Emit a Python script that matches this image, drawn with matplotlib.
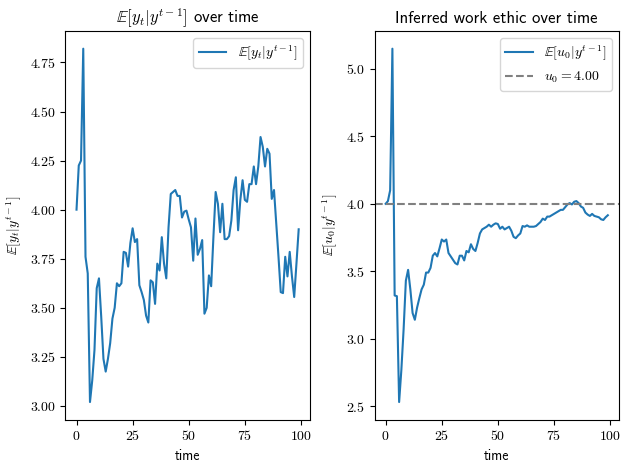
import numpy as np
import matplotlib
matplotlib.use("Agg")
import matplotlib.pyplot as plt
from matplotlib.ticker import FormatStrFormatter

# LaTeX-like look without a TeX install
plt.rcParams["font.family"] = "cmss10"
plt.rcParams["mathtext.fontset"] = "cm"
plt.rcParams["axes.formatter.use_mathtext"] = True

# Expected output E[y_t | y^{t-1}]
y_expected = [
    4.00, 4.225, 4.25, 4.82, 3.76, 3.675, 3.02, 3.13, 3.285, 3.60,
    3.65, 3.455, 3.24, 3.175, 3.24, 3.32, 3.445, 3.50, 3.625, 3.61,
    3.625, 3.785, 3.78, 3.71, 3.83, 3.905, 3.835, 3.85, 3.615, 3.58,
    3.54, 3.46, 3.425, 3.64, 3.63, 3.52, 3.725, 3.69, 3.86, 3.725,
    3.65, 3.91, 4.08, 4.09, 4.10, 4.07, 4.07, 3.96, 3.99, 3.995,
    3.95, 3.91, 3.74, 3.955, 3.77, 3.80, 3.845, 3.47, 3.50, 3.665,
    3.61, 3.86, 4.09, 4.03, 3.885, 4.03, 3.85, 3.85, 3.865, 3.945,
    4.10, 4.165, 3.895, 4.05, 4.15, 4.05, 4.04, 4.13, 4.13, 4.22,
    4.13, 4.22, 4.37, 4.32, 4.22, 4.31, 4.285, 4.055, 4.10, 3.93,
    3.76, 3.58, 3.575, 3.76, 3.66, 3.785, 3.66, 3.555, 3.725, 3.90,
]

# Inferred work ethic E[u_0 | y^{t-1}]
u_expected = [
    4.00, 4.02, 4.10, 5.15, 3.32, 3.315, 2.53, 2.77, 3.07, 3.43,
    3.51, 3.365, 3.19, 3.14, 3.23, 3.30, 3.365, 3.40, 3.49, 3.49,
    3.525, 3.615, 3.635, 3.61, 3.67, 3.735, 3.72, 3.735, 3.635, 3.61,
    3.585, 3.56, 3.55, 3.615, 3.615, 3.58, 3.65, 3.64, 3.70, 3.665,
    3.65, 3.71, 3.78, 3.81, 3.82, 3.83, 3.845, 3.83, 3.845, 3.855,
    3.85, 3.815, 3.83, 3.81, 3.82, 3.83, 3.80, 3.755, 3.745, 3.765,
    3.78, 3.835, 3.83, 3.84, 3.83, 3.83, 3.83, 3.835, 3.85, 3.865,
    3.89, 3.88, 3.905, 3.905, 3.915, 3.925, 3.935, 3.945, 3.955, 3.955,
    3.975, 3.995, 4.005, 3.995, 4.015, 4.02, 4.005, 3.98, 3.97, 3.935,
    3.92, 3.91, 3.925, 3.91, 3.905, 3.90, 3.885, 3.88, 3.90, 3.915,
]

true_u0 = 4.00
time = np.arange(len(y_expected))

fig, (ax1, ax2) = plt.subplots(1, 2, figsize=(6.29, 4.70), dpi=100)

ax1.plot(time, y_expected, label=r"$\mathbb{E}[y_t|y^{t-1}]$")
ax1.set_title(r"$\mathbb{E}[y_t|y^{t-1}]$ over time")
ax1.set_xlabel("time")
ax1.set_ylabel(r"$\mathbb{E}[y_t|y^{t-1}]$")
ax1.legend(loc="upper right")
ax1.xaxis.set_major_formatter(FormatStrFormatter(r"$%d$"))
ax1.yaxis.set_major_formatter(FormatStrFormatter(r"$%.2f$"))

ax2.plot(time, u_expected, label=r"$\mathbb{E}[u_0|y^{t-1}]$")
ax2.axhline(true_u0, color="gray", linestyle="--", label=rf"$u_0 = {true_u0:.2f}$")
ax2.set_title("Inferred work ethic over time")
ax2.set_xlabel("time")
ax2.set_ylabel(r"$\mathbb{E}[u_0|y^{t-1}]$")
ax2.legend(loc="upper right")
ax2.xaxis.set_major_formatter(FormatStrFormatter(r"$%d$"))
ax2.yaxis.set_major_formatter(FormatStrFormatter(r"$%.1f$"))

# match the tight layout of the original figure
fig.subplots_adjust(left=0.104, right=0.984, bottom=0.107, top=0.934, wspace=0.265)
plt.savefig("out.png")
